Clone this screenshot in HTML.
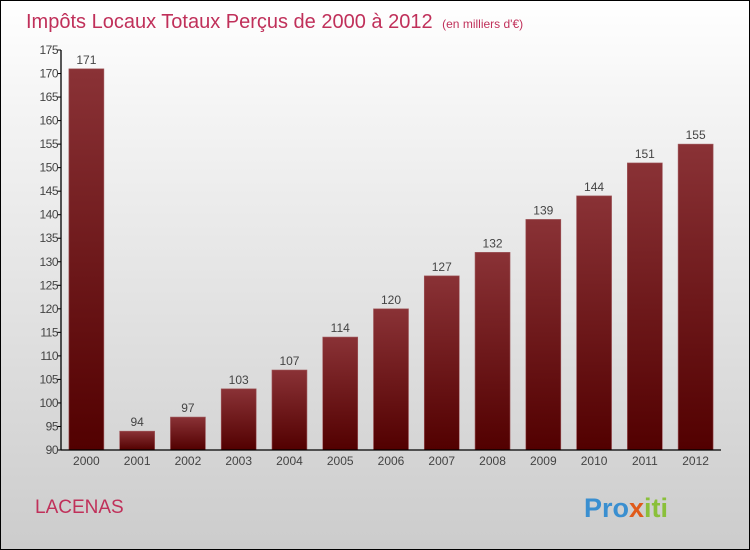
<!DOCTYPE html>
<html><head><meta charset="utf-8"><style>
body{margin:0}
#c{width:750px;height:550px;position:relative;box-sizing:border-box;border:1px solid #000;background:linear-gradient(#ffffff,#f4f4f4 20%,#cccccc);font-family:"Liberation Sans",sans-serif;overflow:hidden}
</style></head><body>
<div id="c">
<svg id="s" width="750" height="550" style="position:absolute;left:-1px;top:-1px">
<text x="26" y="28" font-size="20" fill="#c0305a" font-weight="300">Impôts Locaux Totaux Perçus de 2000 à 2012 <tspan font-size="12" dx="4">(en milliers d'€)</tspan></text>
<text x="35" y="513" font-size="19" fill="#c0305a">LACENAS</text>
<text x="584" y="517" font-size="27" font-weight="bold" fill="#3a8fd0">Pro<tspan fill="#e05a1a">x</tspan><tspan fill="#8ac03a">iti</tspan></text>
<defs><linearGradient id="g" x1="0" y1="0" x2="0" y2="1"><stop offset="0" stop-color="#8a3236"/><stop offset="1" stop-color="#520000"/></linearGradient></defs>
<g id="plot"></g>
</svg>
</div>
<script>
const categories=["2000","2001","2002","2003","2004","2005","2006","2007","2008","2009","2010","2011","2012"];
const values=[171,94,97,103,107,114,120,127,132,139,144,151,155];
const yTicks=[90,95,100,105,110,115,120,125,130,135,140,145,150,155,160,165,170,175];
const x0=61,x1=721,y0=450,y1=50,vmin=90,vmax=175;
const band=(x1-x0)/categories.length;
const y=v=>y0-(v-vmin)/(vmax-vmin)*(y0-y1);
const xc=i=>x0+band*(i+0.5);
const g=document.getElementById('plot');
const NS="http://www.w3.org/2000/svg";
function mk(t,a){const e=document.createElementNS(NS,t);for(const k in a)e.setAttribute(k,a[k]);g.appendChild(e);return e;}
values.forEach((v,i)=>{
 const r=mk('rect',{x:xc(i)-17.5,y:y(v),width:35,height:y0-y(v),fill:'url(#g)',stroke:'#a05a5e','stroke-width':0.6});
 
 
 const t=mk('text',{x:xc(i),y:y(v)-5,'font-size':12,fill:'#444','text-anchor':'middle'});
 t.textContent=v;
 
 
 const c=mk('text',{x:xc(i),y:y0+15,'font-size':12,fill:'#444','text-anchor':'middle'});
 c.textContent=categories[i];
 
 
});
yTicks.forEach(v=>{
 const l=mk('line',{x1:x0-4,x2:x0,y1:y(v),y2:y(v),stroke:'#000'});
 
 
 const t=mk('text',{x:x0-3,y:y(v)+4,'font-size':12,fill:'#444','text-anchor':'end','letter-spacing':'-0.5'});
 t.textContent=v;
 
 
});
const ya=mk('line',{x1:x0,x2:x0,y1:y1,y2:y0,stroke:'#000','stroke-width':1.3});


const xa=mk('line',{x1:x0,x2:x1,y1:y0,y2:y0,stroke:'#000','stroke-width':1.3});


</script>
</body></html>
